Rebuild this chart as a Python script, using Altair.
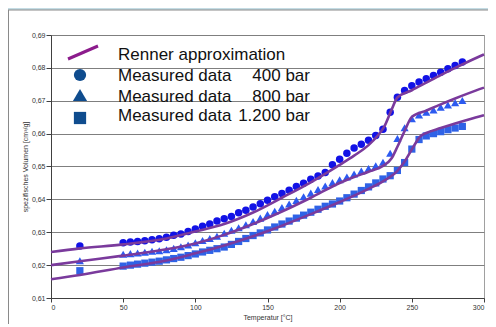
import altair as alt
import pandas as pd

# ---------------- data ----------------
temps = [20, 50, 55, 60, 65, 70, 75, 80, 85, 90, 95, 100, 105, 110, 115, 120, 125,
         130, 135, 140, 145, 150, 155, 160, 165, 170, 175, 180, 185, 190, 195, 200,
         205, 210, 215, 220, 225, 230, 235, 240, 245, 250, 255, 260, 265, 270, 275,
         280, 285]

vol_400 = [0.6258, 0.6268, 0.6270, 0.6272, 0.6274, 0.6277, 0.6280, 0.6285, 0.6291,
           0.6295, 0.6302, 0.6310, 0.6318, 0.6325, 0.6334, 0.6341, 0.6348, 0.6359,
           0.6367, 0.6377, 0.6387, 0.6397, 0.6408, 0.6418, 0.6428, 0.6439, 0.6449,
           0.6461, 0.6471, 0.6482, 0.6505, 0.6522, 0.6540, 0.6556, 0.6568, 0.6580,
           0.6594, 0.6613, 0.6665, 0.6711, 0.6731, 0.6746, 0.6757, 0.6767, 0.6777,
           0.6787, 0.6797, 0.6807, 0.6818]

vol_800 = [0.6213, 0.6233, 0.6235, 0.6237, 0.6239, 0.6242, 0.6244, 0.6247, 0.6251,
           0.6256, 0.6261, 0.6268, 0.6275, 0.6281, 0.6288, 0.6297, 0.6306, 0.6314,
           0.6323, 0.6333, 0.6343, 0.6354, 0.6364, 0.6375, 0.6386, 0.6397, 0.6408,
           0.6419, 0.6430, 0.6441, 0.6451, 0.6460, 0.6468, 0.6477, 0.6486, 0.6494,
           0.6502, 0.6513, 0.6540, 0.6585, 0.6618, 0.6645, 0.6657, 0.6665, 0.6672,
           0.6680, 0.6687, 0.6694, 0.6701]

vol_1200 = [0.6183, 0.6197, 0.6200, 0.6203, 0.6206, 0.6209, 0.6212, 0.6216, 0.6220,
            0.6224, 0.6229, 0.6234, 0.6240, 0.6245, 0.6250, 0.6255, 0.6263, 0.6272,
            0.6281, 0.6290, 0.6298, 0.6307, 0.6316, 0.6325, 0.6334, 0.6343, 0.6352,
            0.6361, 0.6370, 0.6379, 0.6386, 0.6395, 0.6405, 0.6416, 0.6427, 0.6438,
            0.6450, 0.6462, 0.6472, 0.6488, 0.6512, 0.6553, 0.6582, 0.6593, 0.6600,
            0.6606, 0.6612, 0.6617, 0.6622]

renner_400_t = [0, 20, 50, 80, 100, 120, 140, 160, 180, 200, 210, 220, 226, 231,
                236, 240, 250, 260, 270, 280, 290, 300]
renner_400_v = [0.6240, 0.6251, 0.6263, 0.6281, 0.6302, 0.6325, 0.6360, 0.6405,
                0.6452, 0.6505, 0.6533, 0.6565, 0.6592, 0.6622, 0.6673, 0.6710,
                0.6732, 0.6755, 0.6778, 0.6800, 0.6821, 0.6841]

renner_800_t = [0, 20, 50, 80, 100, 120, 140, 160, 180, 200, 210, 220, 230, 236,
                240, 245, 250, 260, 270, 280, 290, 300]
renner_800_v = [0.6200, 0.6212, 0.6229, 0.6248, 0.6266, 0.6292, 0.6325, 0.6363,
                0.6405, 0.6450, 0.6468, 0.6484, 0.6502, 0.6525, 0.6560, 0.6608,
                0.6651, 0.6670, 0.6689, 0.6707, 0.6724, 0.6740]

renner_1200_t = [0, 20, 50, 80, 100, 120, 140, 160, 180, 200, 220, 230, 240, 245,
                 250, 256, 260, 270, 280, 290, 300]
renner_1200_v = [0.6157, 0.6170, 0.6193, 0.6214, 0.6236, 0.6260, 0.6288, 0.6320,
                 0.6355, 0.6392, 0.6432, 0.6455, 0.6487, 0.6515, 0.6552, 0.6592,
                 0.6602, 0.6617, 0.6631, 0.6644, 0.6656]

x_ticks = [0, 50, 100, 150, 200, 250, 300]
y_ticks = [0.61, 0.62, 0.63, 0.64, 0.65, 0.66, 0.67, 0.68, 0.69]

legend_names = ["Renner approximation", "Measured data", "Measured data", "Measured data"]
legend_pressures = ["400 bar", "800 bar", "1.200 bar"]

# ---------------- styling ----------------
FONT = "Liberation Sans"
LINE_COL = "#7a3a9c"
LEG_LINE_COL = "#8c1c8c"
LEG_MARK_COL = "#0f4c8e"
COL_400 = "#1212e6"
COL_800 = "#2c5af0"
COL_1200 = "#2f62e6"

W, H = 433, 263

meas = pd.DataFrame({"T": temps * 3,
                     "v": vol_400 + vol_800 + vol_1200,
                     "s": ["400"] * len(temps) + ["800"] * len(temps) + ["1200"] * len(temps)})
ren = pd.DataFrame({"T": renner_400_t + renner_800_t + renner_1200_t,
                    "v": renner_400_v + renner_800_v + renner_1200_v,
                    "s": ["400"] * len(renner_400_t) + ["800"] * len(renner_800_t)
                         + ["1200"] * len(renner_1200_t)})

x_enc = alt.X("T:Q", scale=alt.Scale(domain=[0, 300], nice=False),
              axis=alt.Axis(values=x_ticks, title="Temperatur [°C]", grid=False,
                            format="d", tickSize=4, labelPadding=1, titlePadding=3))
y_enc = alt.Y("v:Q", scale=alt.Scale(domain=[0.61, 0.69], nice=False, zero=False),
              axis=alt.Axis(values=y_ticks, title="spezifisches Volumen [cm³/g]",
                            grid=True, tickSize=5, labelPadding=1, titlePadding=3,
                            labelExpr="replace(format(datum.value, '.2f'), '.', ',')"))

layers = []
for s, shape, col, size in [("400", "circle", COL_400, 56),
                            ("800", "triangle-up", COL_800, 66),
                            ("1200", "square", COL_1200, 52)]:
    layers.append(
        alt.Chart(meas[meas.s == s]).mark_point(shape=shape, filled=True, opacity=1,
                                               color=col, size=size)
        .encode(x=x_enc, y=y_enc))

for s in ["400", "800", "1200"]:
    layers.append(
        alt.Chart(ren[ren.s == s]).mark_line(color=LINE_COL, strokeWidth=2.6,
                                             interpolate="monotone")
        .encode(x=x_enc, y=y_enc, order="T:Q"))

# ---------- decoration: panel border ----------
deco = [
    alt.Chart().mark_rect(color="#c4dce4").encode(
        x=alt.value(-43), x2=alt.value(W + 4), y=alt.value(-27), y2=alt.value(-25)),
    alt.Chart().mark_rule(color="#8a8a8a", strokeWidth=1).encode(
        x=alt.value(-43), x2=alt.value(W + 4), y=alt.value(-25)),
    alt.Chart().mark_rule(color="#8a8a8a", strokeWidth=1).encode(
        x=alt.value(-42.5), y=alt.value(-25), y2=alt.value(H + 30)),
]

# ---------- legend (inside plot, top left) ----------
leg = [
    alt.Chart().mark_rule(color=LEG_LINE_COL, strokeWidth=3).encode(
        x=alt.value(17), x2=alt.value(47), y=alt.value(24), y2=alt.value(11)),
    alt.Chart().mark_point(shape="circle", filled=True, opacity=1, color=LEG_MARK_COL,
                           size=150).encode(x=alt.value(29), y=alt.value(40)),
    alt.Chart().mark_point(shape="triangle-up", filled=True, opacity=1,
                           color=LEG_MARK_COL, size=200).encode(x=alt.value(29), y=alt.value(60)),
    alt.Chart().mark_point(shape="square", filled=True, opacity=1, color=LEG_MARK_COL,
                           size=150).encode(x=alt.value(29), y=alt.value(83)),
]
rows_y = [20, 41, 61.5, 81]
for name, yy in zip(legend_names, rows_y):
    leg.append(alt.Chart().mark_text(align="left", baseline="middle", font=FONT,
                                     fontSize=17, color="#111111").encode(
        x=alt.value(67), y=alt.value(yy), text=alt.value(name)))
for pr, yy in zip(legend_pressures, rows_y[1:]):
    leg.append(alt.Chart().mark_text(align="right", baseline="middle", font=FONT,
                                     fontSize=17, color="#111111").encode(
        x=alt.value(259), y=alt.value(yy), text=alt.value(pr)))

chart = alt.layer(*deco, *layers, *leg).properties(
    width=W, height=H,
    autosize=alt.AutoSizeParams(type="none"),
    padding={"left": 43, "top": 27, "right": 4, "bottom": 26},
    background="white",
).configure_view(
    stroke="#a0a0a0", strokeWidth=1
).configure_axis(
    labelFont=FONT, titleFont=FONT, labelFontSize=7, titleFontSize=7,
    titleFontWeight="normal", labelColor="#333333", titleColor="#333333",
    domainColor="#404040", tickColor="#404040", gridColor="#7f7f7f",
    gridWidth=1, domainWidth=1, tickWidth=1
)

chart.save("out.html", embed_options={"renderer": "svg", "actions": False})
